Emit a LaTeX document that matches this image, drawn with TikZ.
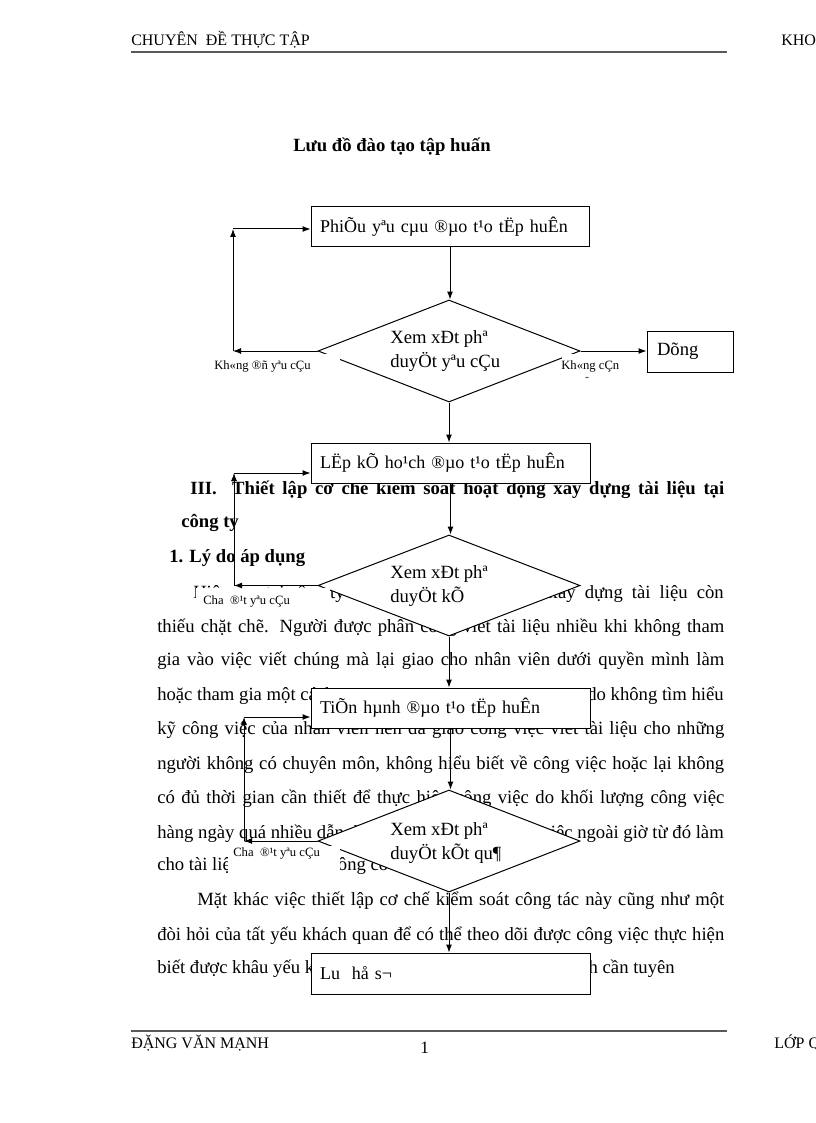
\documentclass[tikz,border=0pt]{standalone}
\usepackage{fontspec}
\setmainfont{Liberation Serif}
\usetikzlibrary{shapes.geometric,arrows.meta}
\newcommand\bodyf{\fontsize{14pt}{17pt}\selectfont}
\newcommand\boxf{\fontsize{13.5pt}{18pt}\selectfont}
\newcommand\dmf{\fontsize{14pt}{18pt}\selectfont}
\newcommand\lblf{\fontsize{9.5pt}{11pt}\selectfont}
\newcommand\hdf{\fontsize{12pt}{14pt}\selectfont}
\begin{document}
\begin{tikzpicture}[x=0.75pt,y=-0.75pt,
  txt/.style={anchor=base west, inner sep=0pt, font=\bodyf},
  txtr/.style={anchor=base east, inner sep=0pt, font=\bodyf},
  htxt/.style={anchor=base west, inner sep=0pt, font=\bodyf\bfseries},
  stepbox/.style={draw, fill=white, line width=0.75pt, minimum height=30pt, text width=195.75pt, inner xsep=6.75pt, inner ysep=0pt, align=left, font=\boxf},
  decision/.style={diamond, draw, fill=white, line width=0.75pt, inner sep=0pt, minimum width=196.5pt, minimum height=76.5pt},
  dtext/.style={anchor=west, inner sep=0pt, align=left, font=\dmf},
  mask/.style={fill=white, inner sep=0pt},
  lbl/.style={anchor=west, inner sep=0pt, font=\lblf},
  arr/.style={-{Latex[length=6pt,width=4.5pt]}, line width=0.75pt},
  rule/.style={black!65, line width=1.5pt}]
\useasboundingbox (0,0) rectangle (816,1123);
\fill[white] (0,0) rectangle (816,1123);

% header and footer
\node[anchor=base west, inner sep=0pt, font=\hdf] (hd) at (131,46) {CHUYÊN\ \ ĐỀ THỰC TẬP};
\node[anchor=base west, inner sep=0pt, font=\hdf] (hdr) at (781,46) {KHOA};
\draw[rule] (131,52) -- (727,52);
\draw[rule] (131,1031) -- (727,1031);
\node[anchor=base west, inner sep=0pt, font=\hdf] (ft) at (131,1048) {ĐẶNG VĂN MẠNH};
\node[anchor=base west, inner sep=0pt, font=\fontsize{13pt}{15pt}\selectfont] (pg) at (420,1053) {1};
\node[anchor=base west, inner sep=0pt, font=\hdf] (ftr) at (774,1048) {LỚP QT};

% title
\node[anchor=base west, inner sep=0pt, font=\bfseries\fontsize{14pt}{17pt}\selectfont] (title) at (293,152) {Lưu đồ đào tạo tập huấn};

% body text
\node[htxt] (t1) at (190,494) {\makebox[400.5pt][s]{III.\ \ Thiết lập cơ chế kiểm soát hoạt động xây dựng tài liệu tại}};
\node[htxt] (t2) at (181,527) {công ty};
\node[htxt] (t3) at (169,562) {1. Lý do áp dụng};
\node[txt] (t4a) at (193,598) {Hiện nay tại công ty};
\node[txtr] (t4b) at (724,598) {\makebox[131.25pt][s]{xây dựng tài liệu còn}};
\node[txt] (t5) at (157,632) {\makebox[425.25pt][s]{thiếu chặt chẽ. Người được phân công viết tài liệu nhiều khi không tham}};
\node[txt] (t6) at (157,665) {\makebox[425.25pt][s]{gia vào việc viết chúng mà lại giao cho nhân viên dưới quyền mình làm}};
\node[txt] (t7a) at (157,700) {hoặc tham gia một cách};
\node[txtr] (t7b) at (724,700) {do không tìm hiểu};
\node[txt] (t8) at (157,734) {\makebox[425.25pt][s]{kỹ công việc của nhân viên nên đã giao công việc viết tài liệu cho những}};
\node[txt] (t9) at (157,769) {\makebox[425.25pt][s]{người không có chuyên môn, không hiểu biết về công việc hoặc lại không}};
\node[txt] (t10) at (157,803) {\makebox[425.25pt][s]{có đủ thời gian cần thiết để thực hiện công việc do khối lượng công việc}};
\node[txt] (t11a) at (157,838) {hàng ngày quá nhiều dẫn đến};
\node[txtr] (t11b) at (724,838) {phải làm thêm công việc ngoài giờ từ đó làm};
\node[txt] (t12) at (157,870) {cho tài liệu xây dựng không có chất lượng.};
\node[txt] (t13) at (197,905) {\makebox[395.25pt][s]{Mặt khác việc thiết lập cơ chế kiểm soát công tác này cũng như một}};
\node[txt] (t14) at (157,940) {\makebox[425.25pt][s]{đòi hỏi của tất yếu khách quan để có thể theo dõi được công việc thực hiện}};
\node[txt] (t15a) at (157,973) {biết được khâu yếu kém trong};
\node[txtr] (t15b) at (675,973) {kế hoạch cần tuyên};

% flowchart boxes
\node[stepbox, minimum width=208.5pt, text width=195pt, minimum height=29.25pt] (b1) at (450,226.5) {PhiÕu yªu cµu ®µo t¹o tËp huÊn};
\node[stepbox] (b2) at (450.5,463) {LËp kÕ ho¹ch ®µo t¹o tËp huÊn};
\node[stepbox] (b3) at (450.5,708) {TiÕn hµnh ®µo t¹o tËp huÊn};
\node[stepbox, minimum height=30.75pt] (b4) at (450.5,973.5) {Lu\ \ hå s¬};
\node[stepbox, text width=49.5pt, inner xsep=7.5pt, minimum height=30.75pt, font=\dmf] (dong) at (690,351.5) {Dõng};

\node[decision] (d1) at (449,351) {};
\node[decision, minimum height=75.75pt] (d2) at (449,585.5) {};
\node[decision] (d3) at (449,841) {};

% label masks and labels
\node[mask, minimum width=99pt, minimum height=18pt] (m1) at (274,366) {};
\node[mask, minimum width=49.5pt, minimum height=18pt] (m2) at (595,366) {};
\node[mask, minimum width=100.5pt, minimum height=18pt] (m3) at (263,600) {};
\node[mask, minimum width=84pt, minimum height=21pt] (m4) at (284,860) {};
\node[lbl] (l1) at (214,366) {Kh«ng\ ®ñ yªu cÇu};
\node[lbl] (l2) at (561,366) {Kh«ng cÇn};
\node[lbl, font=\fontsize{8pt}{8pt}\selectfont] (l2t) at (585,381) {\char"02DC};
\node[lbl] (l3) at (203,601) {Cha\ \ ®¹t yªu cÇu};
\node[lbl] (l4) at (233,853) {Cha\ \ ®¹t yªu cÇu};

% decision texts
\node[dtext] (x1) at (390,351) {Xem xÐt phª\\duyÖt yªu cÇu};
\node[dtext] (x2) at (390,586.5) {Xem xÐt phª\\duyÖt kÕ};
\node[dtext] (x3) at (390,843.5) {Xem xÐt phª\\duyÖt kÕt qu¶};

% connectors
\coordinate (c1) at (233,351);
\coordinate (c1t) at (233,229);
\coordinate (c2) at (234,585.5);
\coordinate (c2t) at (234,473);
\coordinate (c3) at (244,841);
\coordinate (c3t) at (244,717);

\draw[arr] (b1.south) -- (b1.south |- d1.north);
\draw[arr] (d1.east) -- (d1.east -| dong.west);
\draw[arr] (d1.west) -- (c1);
\draw[arr] (c1) -- (c1t);
\draw[arr] (c1t) -- (c1t -| b1.west);
\draw[arr] (d1.south) -- (d1.south |- b2.north);

\draw[arr] (b2.south) -- (b2.south |- d2.north);
\draw[arr] (d2.west) -- (c2);
\draw[arr] (c2) -- (c2t);
\draw[arr] (c2t) -- (c2t -| b2.west);
\draw[arr] (d2.south) -- (d2.south |- b3.north);

\draw[arr] (b3.south) -- (b3.south |- d3.north);
\draw[arr] (d3.west) -- (c3);
\draw[arr] (c3) -- (c3t);
\draw[arr] (c3t) -- (c3t -| b3.west);
\draw[arr] (d3.south) -- (d3.south |- b4.north);
\end{tikzpicture}
\end{document}
